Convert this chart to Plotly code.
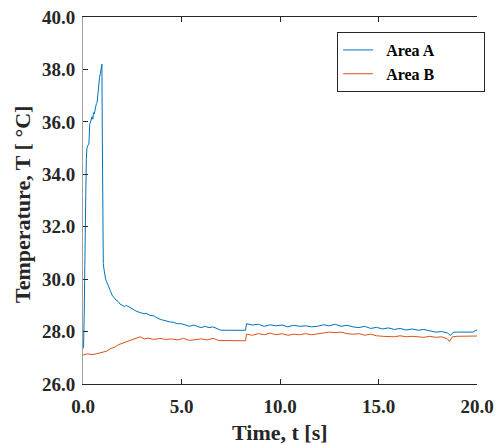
import plotly.graph_objects as go

# ---- data ----
t_a = [0.00, 0.03, 0.06, 0.09, 0.11, 0.14, 0.17, 0.20, 0.25, 0.30, 0.34, 0.38, 0.42, 0.46,
       0.50, 0.53, 0.57, 0.60, 0.64, 0.68, 0.72, 0.76, 0.80, 0.84, 0.88, 0.92, 0.96, 0.98,
       1.00, 1.03, 1.06, 1.10, 1.15, 1.20, 1.27, 1.34, 1.42, 1.50, 1.58, 1.68, 1.78, 1.88,
       2.00, 2.10, 2.20, 2.36, 2.50, 2.65, 2.80, 2.95, 3.10, 3.20, 3.40, 3.60, 3.80, 4.00,
       4.20, 4.40, 4.60, 4.80, 5.00, 5.20, 5.40, 5.60, 5.80, 6.00, 6.20, 6.40, 6.60, 6.80,
       7.00, 7.20, 7.60, 8.00, 8.25, 8.30, 8.60, 8.90, 9.20, 9.50, 9.80, 10.1, 10.4, 10.7,
       11.0, 11.3, 11.6, 11.9, 12.2, 12.5, 12.8, 13.1, 13.4, 13.7, 14.0, 14.3, 14.6, 14.9,
       15.2, 15.5, 15.8, 16.1, 16.4, 16.7, 17.0, 17.3, 17.6, 17.9, 18.2, 18.5, 18.65, 18.8,
       19.0, 19.4, 19.8, 19.95, 20.0]
temp_a = [27.35, 27.40, 28.60, 31.00, 33.10, 33.20, 34.60, 35.00, 35.10, 35.15, 35.90, 36.00, 36.10, 36.20,
          36.10, 36.35, 36.30, 36.45, 36.50, 36.70, 36.75, 37.20, 37.50, 37.70, 37.85, 38.00, 38.20, 35.50,
          31.00, 30.60, 30.40, 30.20, 30.00, 29.90, 29.75, 29.60, 29.50, 29.35, 29.30, 29.20, 29.15, 29.05,
          29.00, 28.95, 29.00, 28.92, 28.85, 28.80, 28.75, 28.72, 28.68, 28.70, 28.62, 28.60, 28.50, 28.45,
          28.40, 28.37, 28.35, 28.30, 28.30, 28.25, 28.20, 28.25, 28.20, 28.15, 28.20, 28.15, 28.18, 28.10,
          28.05, 28.05, 28.05, 28.05, 28.05, 28.30, 28.25, 28.28, 28.20, 28.26, 28.22, 28.25, 28.18, 28.24,
          28.20, 28.22, 28.18, 28.20, 28.26, 28.22, 28.28, 28.20, 28.24, 28.18, 28.15, 28.20, 28.12, 28.16,
          28.10, 28.14, 28.08, 28.12, 28.06, 28.10, 28.05, 28.08, 28.02, 27.98, 28.00, 27.95, 27.85, 27.98,
          27.98, 27.98, 27.98, 28.05, 28.05]

t_b = [0.00, 0.20, 0.50, 0.80, 1.00, 1.20, 1.40, 1.60, 1.80, 2.00, 2.20, 2.50, 2.70, 2.90,
       3.10, 3.30, 3.60, 3.90, 4.20, 4.50, 4.80, 5.10, 5.40, 5.70, 6.00, 6.30, 6.60, 6.90,
       7.20, 7.60, 8.00, 8.25, 8.30, 8.60, 8.90, 9.20, 9.50, 9.80, 10.1, 10.4, 10.7, 11.0,
       11.3, 11.6, 11.9, 12.2, 12.5, 12.8, 13.1, 13.4, 13.7, 14.0, 14.3, 14.6, 14.9, 15.2,
       15.5, 15.8, 16.1, 16.4, 16.7, 17.0, 17.3, 17.6, 17.9, 18.2, 18.5, 18.6, 18.75, 19.0,
       19.5, 20.0]
temp_b = [27.10, 27.15, 27.12, 27.18, 27.20, 27.25, 27.35, 27.40, 27.50, 27.55, 27.60, 27.68, 27.75, 27.80,
          27.72, 27.75, 27.70, 27.74, 27.70, 27.72, 27.68, 27.74, 27.66, 27.70, 27.72, 27.68, 27.74, 27.66,
          27.65, 27.65, 27.65, 27.65, 27.90, 27.86, 27.92, 27.88, 27.94, 27.88, 27.92, 27.86, 27.90, 27.88,
          27.92, 27.88, 27.92, 27.94, 27.98, 27.96, 27.98, 27.92, 27.90, 27.92, 27.86, 27.90, 27.84, 27.82,
          27.82, 27.80, 27.84, 27.80, 27.82, 27.80, 27.78, 27.82, 27.78, 27.80, 27.72, 27.62, 27.80, 27.82,
          27.83, 27.83]

x_ticks = [0, 5, 10, 15, 20]
y_ticks = [26, 28, 30, 32, 34, 36, 38, 40]
series_names = ["Area A", "Area B"]
x_title = "Time, t [s]"
y_title = "Temperature, T [ °C]"

FONT = "Liberation Serif"
DARK = "#262626"
NB = "\u00a0"

fig = go.Figure()
fig.add_trace(go.Scatter(x=t_a, y=temp_a, mode="lines", name=NB * 2 + series_names[0] + NB * 11,
                         line=dict(color="#0072BD", width=1)))
fig.add_trace(go.Scatter(x=t_b, y=temp_b, mode="lines", name=NB * 2 + series_names[1] + NB * 11,
                         line=dict(color="#D95319", width=1)))

tickfont = dict(family=FONT, size=19, color=DARK, weight="bold")
titlefont = dict(family=FONT, size=22, color=DARK, weight="bold")

fig.update_layout(
    width=496, height=445,
    margin=dict(l=83, r=19, t=17, b=61, autoexpand=False),
    paper_bgcolor="white", plot_bgcolor="white",
    font=dict(family=FONT, color=DARK),
    showlegend=True,
    legend=dict(x=0.645, y=0.959, xanchor="left", yanchor="top",
                bgcolor="white", bordercolor=DARK, borderwidth=1,
                font=dict(family=FONT, size=16, color="black", weight="bold"),
                tracegroupgap=0, itemwidth=30),
    xaxis=dict(range=[0, 20], tickvals=x_ticks, tickformat=".1f", automargin=False,
               ticks="inside", ticklen=5, tickcolor=DARK, ticklabelstandoff=5,
               showline=True, linecolor=DARK, linewidth=1, mirror="ticks",
               showgrid=False, zeroline=False, tickfont=tickfont),
    yaxis=dict(range=[26, 40], tickvals=y_ticks, tickformat=".1f", automargin=False,
               ticks="inside", ticklen=5, tickcolor=DARK, ticklabelstandoff=3,
               showline=True, linecolor="#a0a0a0", linewidth=1, mirror=False,
               showgrid=False, zeroline=False, tickfont=tickfont),
    yaxis2=dict(range=[26, 40], tickvals=y_ticks, overlaying="y", side="right", automargin=False,
                ticks="inside", ticklen=5, tickcolor=DARK, showticklabels=False,
                showline=True, linecolor=DARK, linewidth=1,
                showgrid=False, zeroline=False),
    annotations=[
        dict(text=x_title, xref="paper", yref="paper", x=0.5, y=-0.131,
             xanchor="center", yanchor="middle", showarrow=False, font=titlefont),
        dict(text=y_title, xref="paper", yref="paper", x=-0.152, y=0.488,
             xanchor="center", yanchor="middle", showarrow=False, textangle=-90, font=titlefont),
    ],
)

fig.write_html("out.html")
